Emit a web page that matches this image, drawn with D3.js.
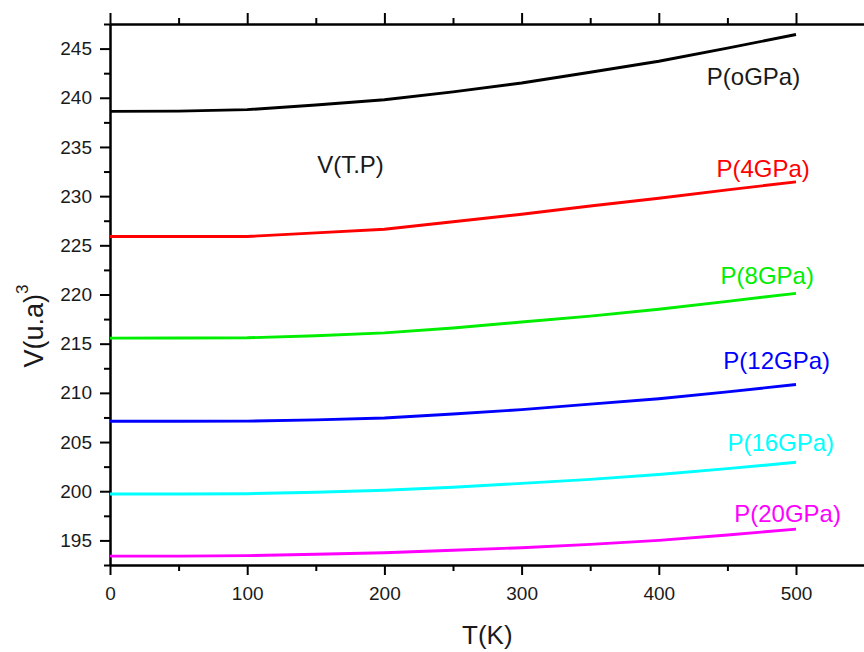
<!DOCTYPE html>
<html>
<head>
<meta charset="utf-8">
<script src="https://cdn.jsdelivr.net/npm/d3@7"></script>
<style>
  html, body { margin: 0; padding: 0; background: #fff; }
  svg { display: block; }
  text { font-family: "Liberation Sans", Arial, sans-serif; fill: #1a1a1a; }
</style>
</head>
<body>
<svg id="chart" width="864" height="652"></svg>
<script>
// Temperature grid (K)
const temperatures = [0, 50, 100, 150, 200, 250, 300, 350, 400, 450, 500];

// Cell volume V(T,P) in (u.a)^3 for each pressure
const v0GPa  = [238.62, 238.64, 238.79, 239.27, 239.80, 240.60, 241.50, 242.59, 243.71, 245.05, 246.43];
const v4GPa  = [225.89, 225.89, 225.90, 226.26, 226.64, 227.39, 228.16, 229.00, 229.79, 230.64, 231.45];
const v8GPa  = [215.57, 215.58, 215.60, 215.80, 216.10, 216.60, 217.20, 217.80, 218.50, 219.30, 220.12];
const v12GPa = [207.12, 207.12, 207.13, 207.25, 207.45, 207.85, 208.30, 208.85, 209.40, 210.10, 210.85];
const v16GPa = [199.72, 199.72, 199.75, 199.90, 200.10, 200.40, 200.80, 201.20, 201.70, 202.30, 202.94];
const v20GPa = [193.40, 193.40, 193.45, 193.60, 193.75, 194.00, 194.26, 194.60, 195.00, 195.55, 196.15];

const seriesNames  = ["P(oGPa)", "P(4GPa)", "P(8GPa)", "P(12GPa)", "P(16GPa)", "P(20GPa)"];
const seriesValues = [v0GPa, v4GPa, v8GPa, v12GPa, v16GPa, v20GPa];
const seriesColors = ["#000000", "#ff0000", "#00ee00", "#0000ff", "#00ffff", "#ff00ff"];

// Label anchor points in data units (T, V)
const labelT = [435, 442, 445, 447, 450, 455];
const labelV = [241.25, 231.95, 221.05, 212.4, 204.05, 196.9];

const xMajorTicks = [0, 100, 200, 300, 400, 500];
const yMajorTicks = [195, 200, 205, 210, 215, 220, 225, 230, 235, 240, 245];

const svg = d3.select("#chart");

const x = d3.scaleLinear().domain([0, 550]).range([110, 864.6]);
const y = d3.scaleLinear().domain([192.5, 247.5]).range([565, 24]);

const xMinor = d3.range(50, 551, 100);
const yMinor = d3.range(192.5, 247.6, 5);

// Axes: major ticks with labels, minor ticks without
const axisStyle = g => {
  g.select(".domain").attr("stroke", "#000").attr("stroke-width", 2);
  g.selectAll(".tick line").attr("stroke", "#000").attr("stroke-width", 2);
  g.selectAll(".tick text").attr("font-size", 19).attr("fill", "#1a1a1a")
    .attr("font-family", "'Liberation Sans', Arial, sans-serif");
};

svg.append("g").attr("transform", "translate(0,565)")
  .call(d3.axisBottom(x).tickValues(xMajorTicks).tickSize(10).tickPadding(12).tickSizeOuter(0))
  .call(axisStyle);
svg.append("g").attr("transform", "translate(0,565)")
  .call(d3.axisBottom(x).tickValues(xMinor).tickSize(6).tickFormat("").tickSizeOuter(0))
  .call(axisStyle);

svg.append("g").attr("transform", "translate(0,24)")
  .call(d3.axisTop(x).tickValues(xMajorTicks).tickSize(11).tickFormat("").tickSizeOuter(0))
  .call(axisStyle);
svg.append("g").attr("transform", "translate(0,24)")
  .call(d3.axisTop(x).tickValues(xMinor).tickSize(6).tickFormat("").tickSizeOuter(0))
  .call(axisStyle);

svg.append("g").attr("transform", "translate(110,0)")
  .call(d3.axisLeft(y).tickValues(yMajorTicks).tickSize(10).tickPadding(8).tickSizeOuter(0))
  .call(axisStyle);
svg.append("g").attr("transform", "translate(110,0)")
  .call(d3.axisLeft(y).tickValues(yMinor).tickSize(6).tickFormat("").tickSizeOuter(0))
  .call(axisStyle);

// Curves
const line = d3.line()
  .x((d, i) => x(temperatures[i]))
  .y(d => y(d));

seriesValues.forEach((vals, k) => {
  svg.append("path")
    .datum(vals)
    .attr("fill", "none")
    .attr("stroke", seriesColors[k])
    .attr("stroke-width", 2.9)
    .attr("stroke-linejoin", "round")
    .attr("d", line);

  svg.append("text")
    .attr("x", x(labelT[k]))
    .attr("y", y(labelV[k]))
    .attr("font-size", 24)
    .style("fill", k === 0 ? "#1a1a1a" : seriesColors[k])
    .text(seriesNames[k]);
});

// Annotation
svg.append("text")
  .attr("x", x(151)).attr("y", y(232.4))
  .attr("font-size", 24)
  .text("V(T.P)");

// Axis titles
svg.append("text")
  .attr("x", x(275)).attr("y", 644)
  .attr("text-anchor", "middle")
  .attr("font-size", 26)
  .text("T(K)");

const yTitle = svg.append("text")
  .attr("transform", "translate(43,326) rotate(-90)")
  .attr("text-anchor", "middle")
  .attr("font-size", 27);
yTitle.append("tspan").text("V(u.a)");
yTitle.append("tspan").attr("font-size", 17).attr("dy", -15).text("3");
</script>
</body>
</html>
